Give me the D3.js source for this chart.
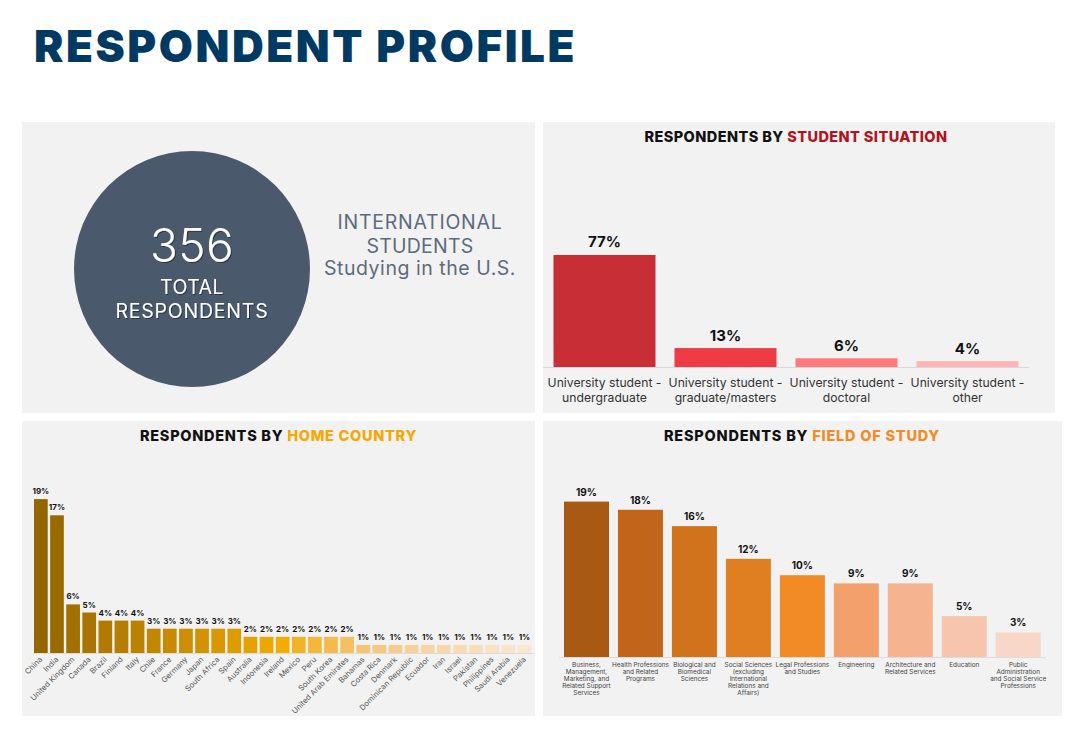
<!DOCTYPE html>
<html><head><meta charset="utf-8">
<script src="https://cdn.jsdelivr.net/npm/d3@7"></script>
<style>
body{margin:0;background:#fff}
svg{display:block}
text{font-family:Inter,"Open Sans",sans-serif}
</style>
</head><body><svg id="c" width="1080" height="733"></svg>
<script>
// ---------------- DATA ----------------
const totalRespondents = 356;
const situationCategories = ["University student - undergraduate","University student - graduate/masters","University student - doctoral","University student - other"];
const situationValues = [77,13,6,4];
const countryCategories = ["China","India","United Kingdom","Canada","Brazil","Finland","Italy","Chile","France","Germany","Japan","South Africa","Spain","Australia","Indonesia","Ireland","Mexico","Peru","South Korea","United Arab Emirates","Bahamas","Costa Rica","Denmark","Dominican Republic","Ecuador","Iran","Israel","Pakistan","Philippines","Saudi Arabia","Venezuela"];
const countryValues = [19,17,6,5,4,4,4,3,3,3,3,3,3,2,2,2,2,2,2,2,1,1,1,1,1,1,1,1,1,1,1];
const fieldCategories = ["Business, Management, Marketing, and Related Support Services","Health Professions and Related Programs","Biological and Biomedical Sciences","Social Sciences (excluding International Relations and Affairs)","Legal Professions and Studies","Engineering","Architecture and Related Services","Education","Public Administration and Social Service Professions"];
const fieldValues = [19,18,16,12,10,9,9,5,3];
const fieldLabelLines = [["Business,","Management,","Marketing, and","Related Support","Services"],["Health Professions","and Related","Programs"],["Biological and","Biomedical","Sciences"],["Social Sciences","(excluding","International","Relations and","Affairs)"],["Legal Professions","and Studies"],["Engineering"],["Architecture and","Related Services"],["Education"],["Public","Administration","and Social Service","Professions"]];

// ---------------- STYLES ----------------
const situationColors = ["#c82e36","#ee3b44","#ff797b","#ffb5b5"];
const countryColors = ["#946600","#9a6a00","#a27000","#a97500","#b07a00","#b67e00","#bb8200","#c28700","#c88b00","#cd8f00","#d39300","#d99800","#df9c00","#e6a200","#eca800","#f2ad00","#f2b325","#f3b73b","#f3bb4d","#f4c063","#f5c574","#f6c983","#f6cd8f","#f7d199","#f7d4a2","#f8d8ab","#f8dbb3","#f9debb","#f9e1c2","#fae4c9","#fae7cf"];
const fieldColors = ["#a85a15","#c0651a","#d1731d","#e07f21","#f28b25","#f4a06c","#f5b38f","#f7c5ad","#f8d6c8"];

const svg = d3.select("#c");
svg.append("rect").attr("width",1080).attr("height",733).attr("fill","#fff");

function fit(sel, w){
  const n = sel.text().length;
  const l = sel.node().getComputedTextLength();
  sel.attr("letter-spacing", ((w - l) / n).toFixed(3));
}

// Title
const title = svg.append("text").attr("x",34).attr("y",62)
  .attr("font-size",44).attr("font-weight",900).attr("fill","#003a63")
  .text("RESPONDENT PROFILE");
fit(title, 543);

// Panels
const panels = [[22,122,513,291],[543,122,512,291],[22,421,513,295],[543,421,519,295]];
svg.selectAll("rect.panel").data(panels).join("rect").attr("class","panel")
  .attr("x",d=>d[0]).attr("y",d=>d[1]).attr("width",d=>d[2]).attr("height",d=>d[3])
  .attr("fill","#f2f2f2");

// Shadow filter
const defs = svg.append("defs");
defs.append("filter").attr("id","sh").attr("x","-10%").attr("y","-10%").attr("width","130%").attr("height","130%")
  .append("feDropShadow").attr("dx",1).attr("dy",1).attr("stdDeviation",0.6)
  .attr("flood-color","#000").attr("flood-opacity",0.45);

// Circle panel
svg.append("circle").attr("cx",192).attr("cy",269).attr("r",118).attr("fill","#4a5a6c");
const t356 = svg.append("text").attr("x",192).attr("y",262).attr("text-anchor","middle")
  .attr("font-size",46).attr("font-weight",300).attr("fill","#fff").attr("filter","url(#sh)")
  .text(d3.format("d")(totalRespondents));
fit(t356, 84);
const tTot = svg.append("text").attr("x",192).attr("y",294).attr("text-anchor","middle")
  .attr("font-size",19.5).attr("font-weight",400).attr("fill","#fff").attr("filter","url(#sh)").text("TOTAL");
fit(tTot, 64);
const tResp = svg.append("text").attr("x",192).attr("y",318).attr("text-anchor","middle")
  .attr("font-size",19.5).attr("font-weight",400).attr("fill","#fff").attr("filter","url(#sh)").text("RESPONDENTS");
fit(tResp, 153);

const side = [["INTERNATIONAL",229,165],["STUDENTS",252.5,107],["Studying in the U.S.",275,192]];
side.forEach(s=>{
  const t = svg.append("text").attr("x",420).attr("y",s[1]).attr("text-anchor","middle")
    .attr("font-size",19.5).attr("font-weight",400).attr("fill","#5c6b7d").text(s[0]);
  fit(t, s[2]);
});

// Panel titles
function panelTitle(cx, y, colored, color, w){
  const t = svg.append("text").attr("x",cx).attr("y",y).attr("text-anchor","middle")
    .attr("font-size",14.5).attr("font-weight",800).attr("fill","#111");
  t.append("tspan").text("RESPONDENTS BY ");
  t.append("tspan").attr("fill",color).text(colored);
  fit(t, w);
}
panelTitle(796, 142.3, "STUDENT SITUATION", "#b3121c", 303);
panelTitle(278.5, 441.3, "HOME COUNTRY", "#f5a800", 277);
panelTitle(802, 441.3, "FIELD OF STUDY", "#f28a25", 276);

// ---------- Student situation chart ----------
{
  const x = d3.scaleBand().domain(situationCategories).range([544,1028]).paddingInner(0.157).paddingOuter(0.0785);
  const y = d3.scaleLinear().domain([0,100]).range([367,221.5]);
  const g = svg.append("g");
  g.append("line").attr("x1",543).attr("x2",1029).attr("y1",367.5).attr("y2",367.5).attr("stroke","#d9d9d9");
  g.selectAll("rect").data(situationValues).join("rect")
    .attr("x",(d,i)=>x(situationCategories[i])).attr("width",x.bandwidth())
    .attr("y",d=>y(d)).attr("height",d=>y(0)-y(d)).attr("fill",(d,i)=>situationColors[i]);
  g.selectAll("text.v").data(situationValues).join("text").attr("class","v")
    .attr("x",(d,i)=>x(situationCategories[i])+x.bandwidth()/2).attr("y",d=>y(d)-7.5)
    .attr("text-anchor","middle").attr("font-size",15).attr("font-weight",700).attr("fill","#111")
    .text(d=>d+"%");
  situationCategories.forEach(c=>{
    const parts = c.split(" - ");
    const lines = [parts[0]+" -", parts[1]];
    const t = g.append("text").attr("x",x(c)+x.bandwidth()/2).attr("y",387)
      .attr("text-anchor","middle").attr("font-size",12.2).attr("fill","#333");
    lines.forEach((l,i)=>t.append("tspan").attr("x",x(c)+x.bandwidth()/2).attr("dy",i?14.5:0).text(l));
  });
}

// ---------- Home country chart ----------
{
  const x = d3.scaleBand().domain(countryCategories).range([32.8,532.5]).paddingInner(0.15).paddingOuter(0.075);
  const y = d3.scaleLinear().domain([0,20]).range([653,491]);
  const g = svg.append("g");
  g.append("line").attr("x1",33).attr("x2",533).attr("y1",653.5).attr("y2",653.5).attr("stroke","#dcdcdc");
  g.selectAll("rect").data(countryValues).join("rect")
    .attr("x",(d,i)=>x(countryCategories[i])).attr("width",x.bandwidth())
    .attr("y",d=>y(d)).attr("height",d=>y(0)-y(d)).attr("fill",(d,i)=>countryColors[i]);
  g.selectAll("text.v").data(countryValues).join("text").attr("class","v")
    .attr("x",(d,i)=>x(countryCategories[i])+x.bandwidth()/2).attr("y",d=>y(d)-5)
    .attr("text-anchor","middle").attr("font-size",8).attr("font-weight",700).attr("fill","#111")
    .text(d=>d+"%");
  g.selectAll("text.c").data(countryCategories).join("text").attr("class","c")
    .attr("transform",d=>`translate(${x(d)+x.bandwidth()/2+2},${660}) rotate(-45)`)
    .attr("text-anchor","end").attr("font-size",7.7).attr("fill","#555")
    .text(d=>d);
}

// ---------- Field of study chart ----------
{
  const x = d3.scaleBand().domain(fieldCategories).range([559.5,1045.2]).paddingInner(0.166).paddingOuter(0.083);
  const y = d3.scaleLinear().domain([0,20]).range([657,493.4]);
  const g = svg.append("g");
  g.append("line").attr("x1",559).attr("x2",1046).attr("y1",657.5).attr("y2",657.5).attr("stroke","#dcdcdc");
  g.selectAll("rect").data(fieldValues).join("rect")
    .attr("x",(d,i)=>x(fieldCategories[i])).attr("width",x.bandwidth())
    .attr("y",d=>y(d)).attr("height",d=>y(0)-y(d)).attr("fill",(d,i)=>fieldColors[i]);
  g.selectAll("text.v").data(fieldValues).join("text").attr("class","v")
    .attr("x",(d,i)=>x(fieldCategories[i])+x.bandwidth()/2).attr("y",d=>y(d)-6)
    .attr("text-anchor","middle").attr("font-size",10).attr("font-weight",700).attr("fill","#111")
    .text(d=>d+"%");
  fieldCategories.forEach((c,i)=>{
    const cx = x(c)+x.bandwidth()/2;
    const t = g.append("text").attr("x",cx).attr("y",666.5)
      .attr("text-anchor","middle").attr("font-size",6.4).attr("fill","#444");
    fieldLabelLines[i].forEach((l,j)=>t.append("tspan").attr("x",cx).attr("dy",j?7.1:0).text(l));
  });
}
</script>
</body></html>
